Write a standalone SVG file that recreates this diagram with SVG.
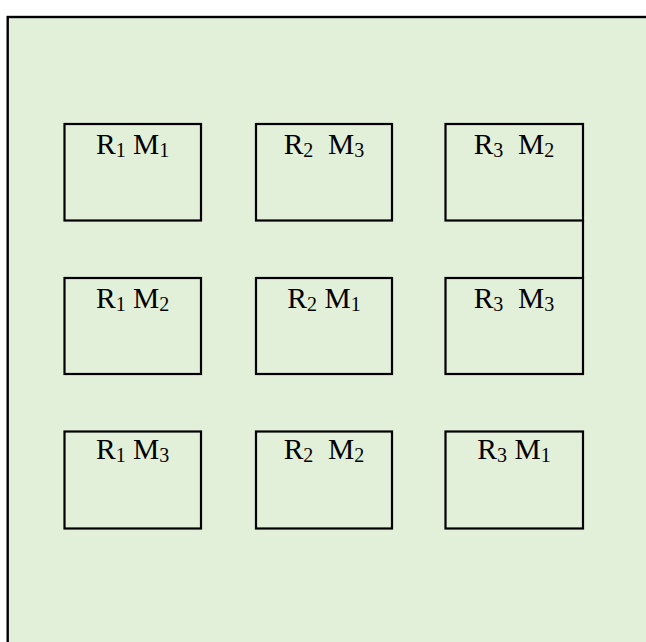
<svg xmlns="http://www.w3.org/2000/svg" width="646" height="642" viewBox="0 0 646 642">
<style>
.bg{fill:#E2EFD9;stroke:#000;stroke-width:2.4}
.box{fill:none;stroke:#000;stroke-width:2.2}
.conn{stroke:#000;stroke-width:2.2;fill:none}
.lbl{font-family:"Liberation Serif","Times New Roman",serif;font-size:29.5px;fill:#000;text-anchor:middle}
.s{font-size:20px}
</style>
<rect width="646" height="642" fill="#FFFFFF"/>
<rect class="bg" x="7.7" y="17" width="700" height="700"/>
<g id="connectors">
<line class="conn" x1="583" y1="220.5" x2="583" y2="278"/>
</g>
<g id="n-r1m1"><rect class="box" x="64.5" y="124" width="136.5" height="96.5"/>
<text class="lbl" x="132.7" y="153.7" xml:space="preserve">R<tspan class="s" dy="3">1</tspan><tspan dy="-3"> M</tspan><tspan class="s" dy="3">1</tspan></text></g>
<g id="n-r2m3"><rect class="box" x="256" y="124" width="136" height="96.5"/>
<text class="lbl" x="324" y="153.7" xml:space="preserve">R<tspan class="s" dy="3">2</tspan><tspan dy="-3">  M</tspan><tspan class="s" dy="3">3</tspan></text></g>
<g id="n-r3m2"><rect class="box" x="445.5" y="124" width="137.5" height="96.5"/>
<text class="lbl" x="514" y="153.7" xml:space="preserve">R<tspan class="s" dy="3">3</tspan><tspan dy="-3">  M</tspan><tspan class="s" dy="3">2</tspan></text></g>
<g id="n-r1m2"><rect class="box" x="64.5" y="278" width="136.5" height="96"/>
<text class="lbl" x="132.7" y="307.5" xml:space="preserve">R<tspan class="s" dy="3">1</tspan><tspan dy="-3"> M</tspan><tspan class="s" dy="3">2</tspan></text></g>
<g id="n-r2m1"><rect class="box" x="256" y="278" width="136" height="96"/>
<text class="lbl" x="324" y="307.5" xml:space="preserve">R<tspan class="s" dy="3">2</tspan><tspan dy="-3"> M</tspan><tspan class="s" dy="3">1</tspan></text></g>
<g id="n-r3m3"><rect class="box" x="445.5" y="278" width="137.5" height="96"/>
<text class="lbl" x="514" y="307.5" xml:space="preserve">R<tspan class="s" dy="3">3</tspan><tspan dy="-3">  M</tspan><tspan class="s" dy="3">3</tspan></text></g>
<g id="n-r1m3"><rect class="box" x="64.5" y="431.5" width="136.5" height="97"/>
<text class="lbl" x="132.7" y="459" xml:space="preserve">R<tspan class="s" dy="3">1</tspan><tspan dy="-3"> M</tspan><tspan class="s" dy="3">3</tspan></text></g>
<g id="n-r2m2"><rect class="box" x="256" y="431.5" width="136" height="97"/>
<text class="lbl" x="324" y="459" xml:space="preserve">R<tspan class="s" dy="3">2</tspan><tspan dy="-3">  M</tspan><tspan class="s" dy="3">2</tspan></text></g>
<g id="n-r3m1"><rect class="box" x="445.5" y="431.5" width="137.5" height="97"/>
<text class="lbl" x="514" y="459" xml:space="preserve">R<tspan class="s" dy="3">3</tspan><tspan dy="-3"> M</tspan><tspan class="s" dy="3">1</tspan></text></g>
</svg>
